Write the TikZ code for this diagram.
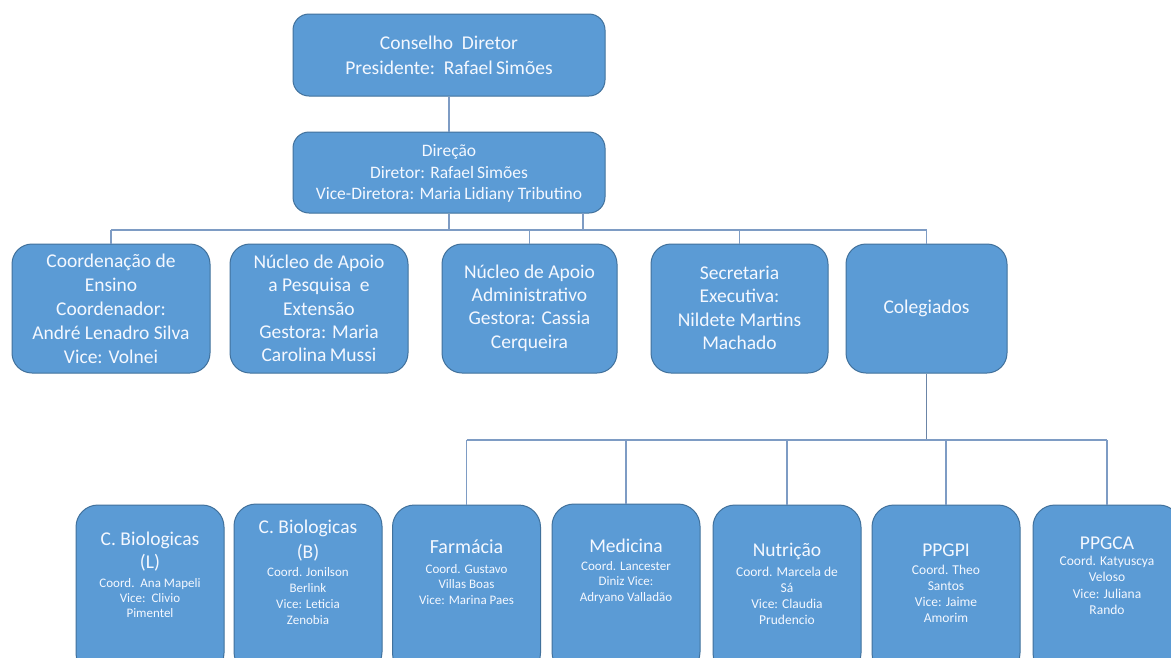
\documentclass[tikz,border=0pt]{standalone}
\usepackage{fontspec}
\setmainfont{Carlito}
\definecolor{boxfill}{HTML}{5B9BD5}
\definecolor{boxdraw}{HTML}{41719C}
\definecolor{connc}{HTML}{7E9CC4}
\definecolor{txtc}{HTML}{F4F8FF}
\tikzset{
  box/.style={rectangle, draw=boxdraw, fill=boxfill, line width=1pt, inner sep=0pt},
  topbox/.style={box, rounded corners=16pt},
  midbox/.style={box, rounded corners=20pt, minimum height=129pt},
  botbox/.style={box, rounded corners=22pt, minimum width=148pt, minimum height=170pt},
  txt/.style={text=txtc, align=center, inner sep=0pt},
  conn/.style={draw=connc, line width=1.3pt},
  conn2/.style={draw=connc!85!black, line width=1.6pt}
}
\newcommand{\fs}[2]{\fontsize{#1}{#2}\selectfont}
\begin{document}
\begin{tikzpicture}[x=1pt,y=-1pt]
\useasboundingbox (0,0) rectangle (1171,657);
\fill[white] (0,0) rectangle (1171,657);
\begin{scope}
\clip (0,0) rectangle (1171,657);
\coordinate (busA) at (0,230);
\coordinate (busB) at (0,440);
\coordinate (d2) at (583,213);
% top boxes
\node[topbox, minimum width=312pt, minimum height=82pt] (cons) at (449,55) {};
\node[topbox, minimum width=312pt, minimum height=81pt] (dir) at (449,172.5) {};
% middle boxes
\node[midbox, minimum width=198pt] (ens) at (111,308.5) {};
\node[midbox, minimum width=178pt] (pesq) at (319,308.5) {};
\node[midbox, minimum width=175pt] (adm) at (529.5,308.5) {};
\node[midbox, minimum width=177pt] (sec) at (739.5,308.5) {};
\node[midbox, minimum width=161pt] (col) at (926.5,308.5) {};
% bottom boxes
\node[botbox] (bl) at (150,590) {};
\node[botbox] (bb) at (308,589) {};
\node[botbox] (farm) at (466.5,590) {};
\node[botbox] (med) at (626,589) {};
\node[botbox] (nut) at (787,590) {};
\node[botbox] (ppgpi) at (946,590) {};
\node[botbox] (ppgca) at (1107,590) {};
% connectors
\draw[conn] (cons.south) -- (dir.north);
\draw[conn] (dir.south) -- (dir.south |- busA);
\draw[conn] (d2) -- (d2 |- busA);
\draw[conn] (ens.north |- busA) -- (col.north |- busA);
\draw[conn] (ens.north) -- (ens.north |- busA);
\draw[conn] (adm.north) -- (adm.north |- busA);
\draw[conn] (sec.north) -- (sec.north |- busA);
\draw[conn] (col.north) -- (col.north |- busA);
\draw[conn2] (col.south) -- (col.south |- busB);
\draw[conn] (farm.north |- busB) -- (ppgca.north |- busB);
\draw[conn] (farm.north) -- (farm.north |- busB);
\draw[conn] (med.north) -- (med.north |- busB);
\draw[conn] (nut.north) -- (nut.north |- busB);
\draw[conn] (ppgpi.north) -- (ppgpi.north |- busB);
\draw[conn] (ppgca.north) -- (ppgca.north |- busB);
% texts top
\node[txt, font=\fs{19.5}{25}] (tcons) at (449,55.5) {Conselho\ \ Diretor\\Presidente:\ \ Rafael\,Simões};
\node[txt, font=\fs{17.5}{21.5}] (tdir) at (449,173.5) {Direção\\Diretor: Rafael\,Simões\\Vice-Diretora: Maria\,Lidiany Tributino};
% texts middle
\node[txt, font=\fs{19.5}{24}] (tens) at (111,308.5) {Coordenação de\\Ensino\\Coordenador:\\André Lenadro Silva\\Vice: Volnei};
\node[txt, font=\fs{19.5}{23.3}] (tpesq) at (319,308.5) {Núcleo de Apoio\\a Pesquisa\ \ e\\Extensão\\Gestora: Maria\\Carolina\,Mussi};
\node[txt, font=\fs{19.5}{23.3}] (tadm) at (529.5,308) {Núcleo de Apoio\\Administrativo\\Gestora: Cassia\\Cerqueira};
\node[txt, font=\fs{19.5}{23.3}] (tsec) at (739.5,308) {Secretaria\\Executiva:\\Nildete Martins\\Machado};
\node[txt, font=\fs{19.5}{23}] (tcol) at (926.5,308) {Colegiados};
% texts bottom
\node[txt, font=\fs{19.5}{23}] (tbl1) at (150,551.5) {C. Biologicas\\(L)};
\node[txt, font=\fs{13}{15}] (tbl2) at (150,598) {Coord.\ \ Ana Mapeli\\Vice:\ \ Clivio\\Pimentel};
\node[txt, font=\fs{19.5}{25}] (tbb1) at (308,540.5) {C. Biologicas\\(B)};
\node[txt, font=\fs{13}{16}] (tbb2) at (308,596) {Coord. Jonilson\\Berlink\\Vice: Leticia\\Zenobia};
\node[txt, font=\fs{20}{23}] (tfarm1) at (466.5,547) {Farmácia};
\node[txt, font=\fs{13}{15.5}] (tfarm2) at (466.5,584.5) {Coord. Gustavo\\Villas Boas\\Vice: Marina Paes};
\node[txt, font=\fs{19.5}{23}] (tmed1) at (626,546) {Medicina};
\node[txt, font=\fs{13}{15.5}] (tmed2) at (626,582.5) {Coord. Lancester\\Diniz Vice:\\Adryano Valladão};
\node[txt, font=\fs{19.5}{23}] (tnut1) at (787,551) {Nutrição};
\node[txt, font=\fs{13.5}{16}] (tnut2) at (787,596) {Coord. Marcela de\\Sá\\Vice: Claudia\\Prudencio};
\node[txt, font=\fs{19.5}{23}] (tppgpi1) at (946,550) {PPGPI};
\node[txt, font=\fs{13.5}{16}] (tppgpi2) at (946,594) {Coord. Theo\\Santos\\Vice: Jaime\\Amorim};
\node[txt, font=\fs{19.5}{23}] (tppgca1) at (1107,543) {PPGCA};
\node[txt, font=\fs{13.5}{16.3}] (tppgca2) at (1107,585.5) {Coord. Katyuscya\\Veloso\\Vice: Juliana\\Rando};
\end{scope}
\end{tikzpicture}
\end{document}
